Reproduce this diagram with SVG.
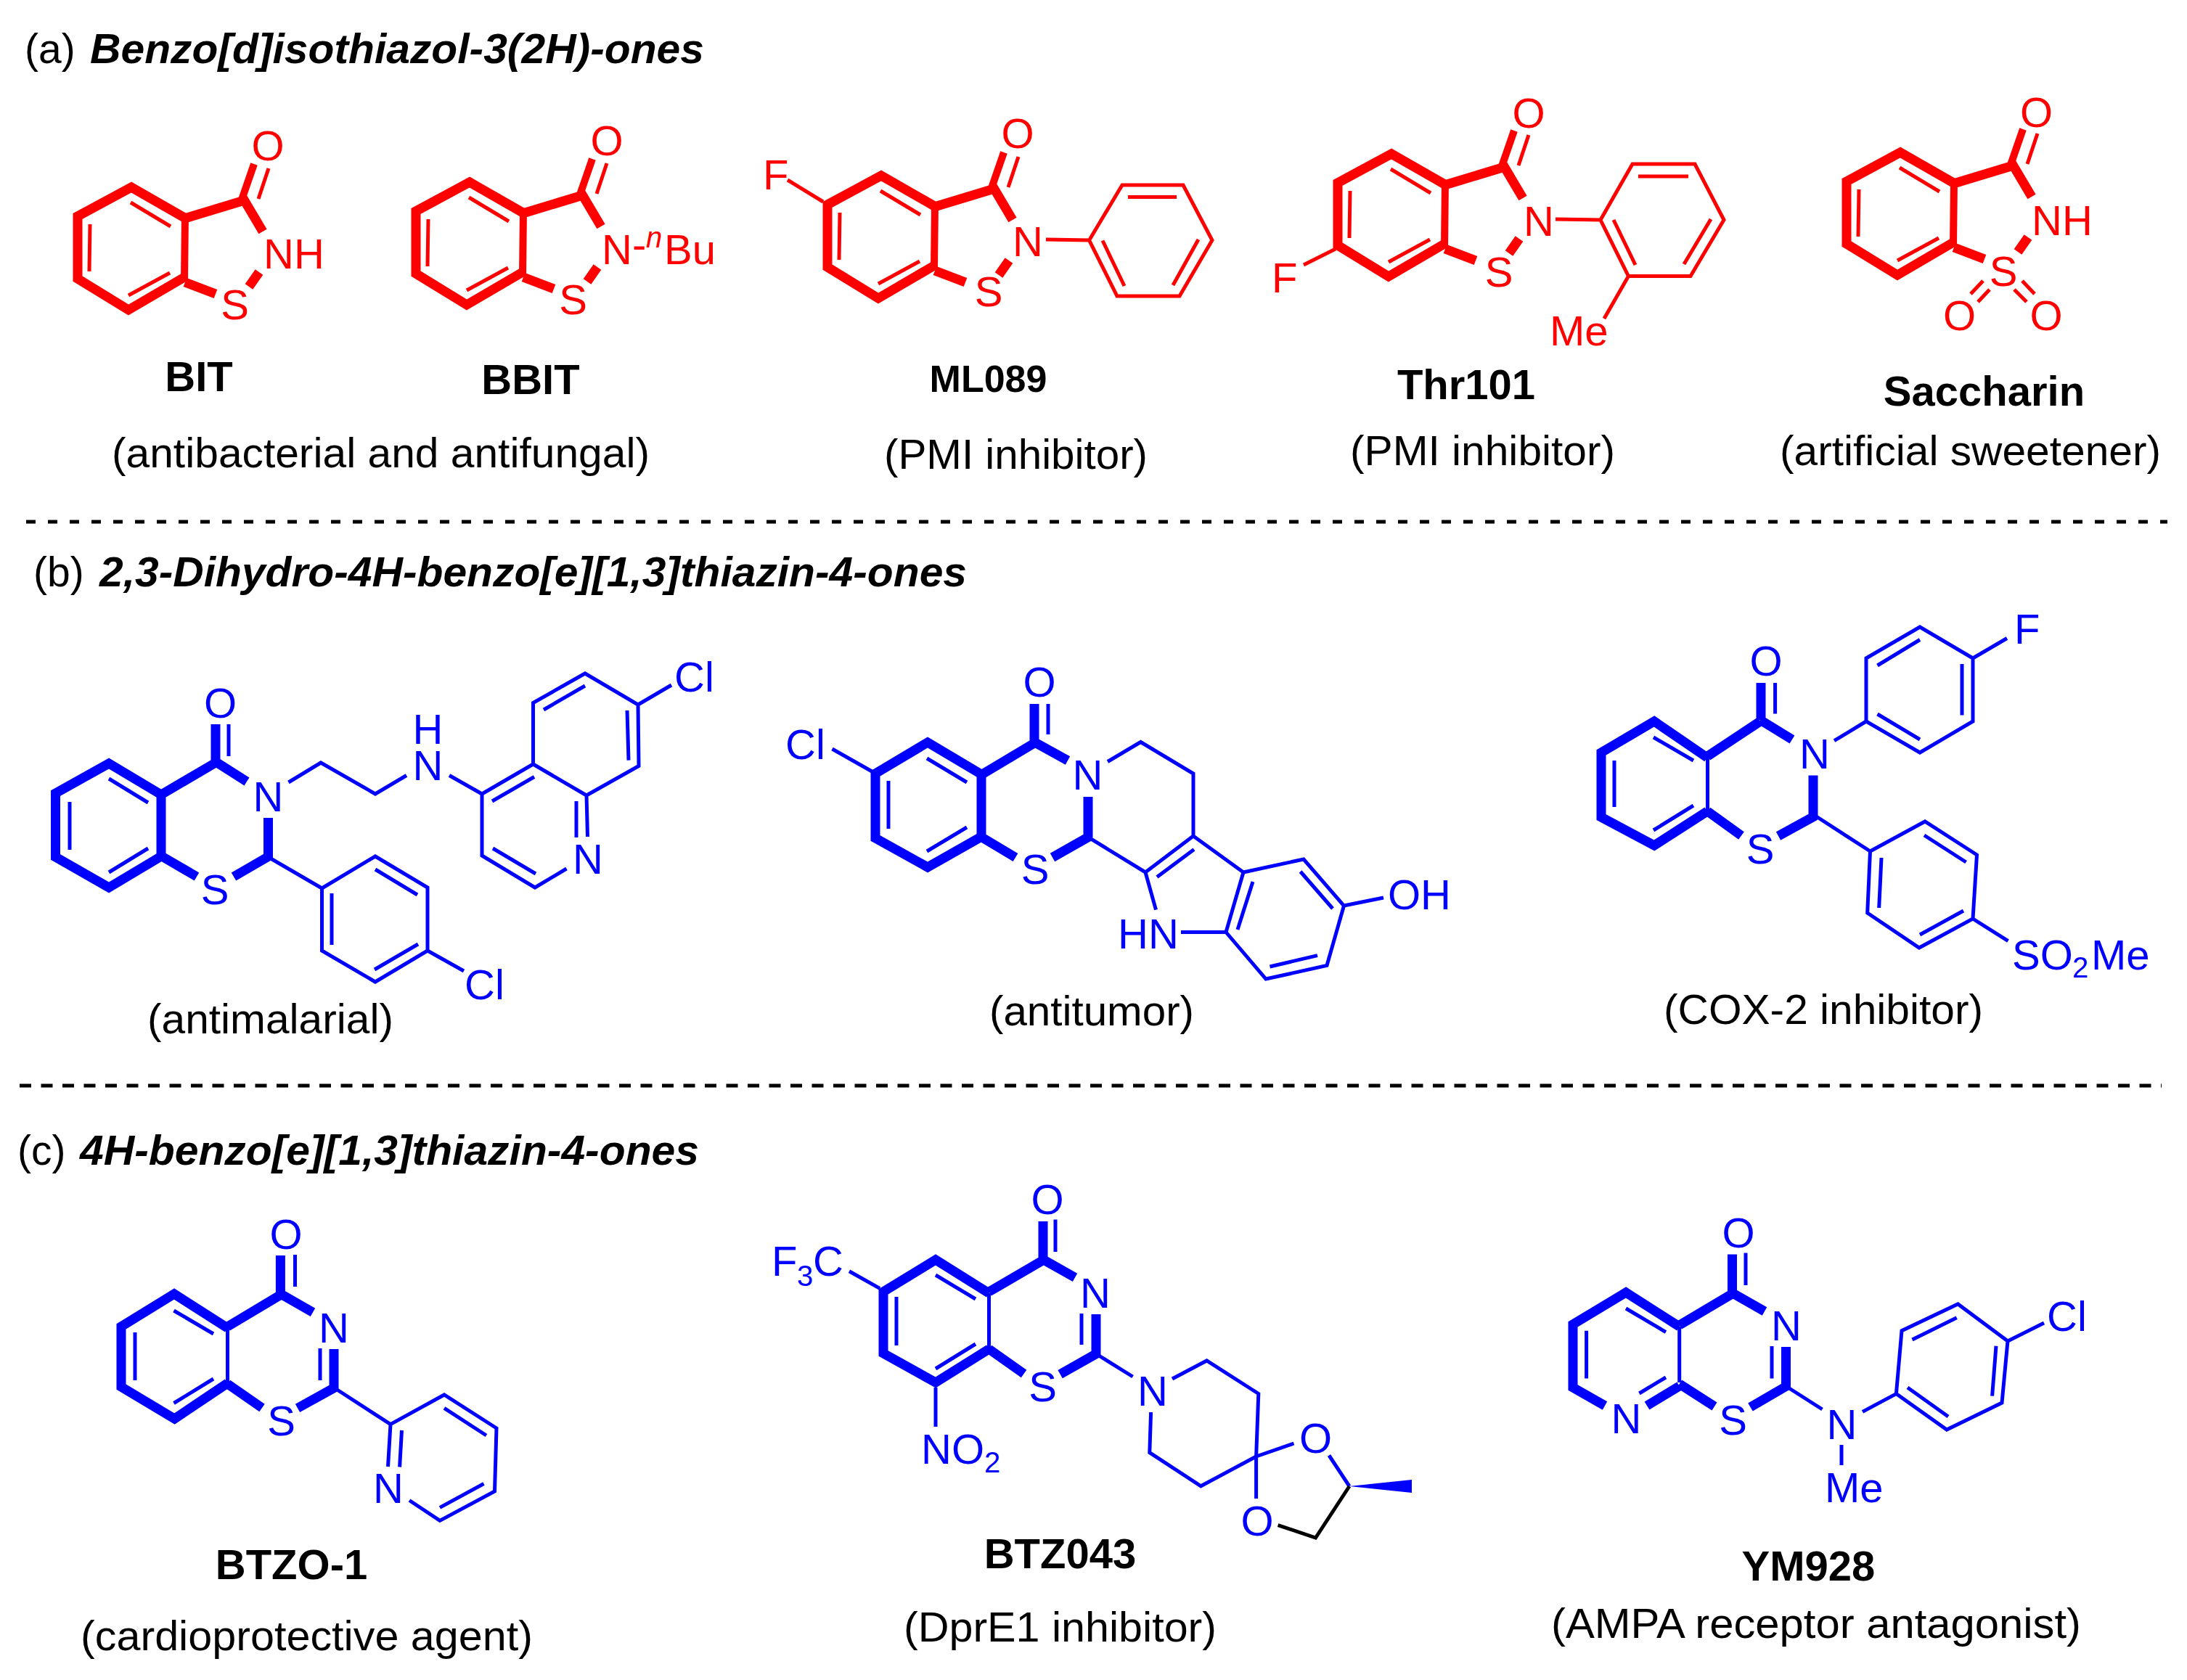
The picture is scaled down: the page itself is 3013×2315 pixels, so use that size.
<svg xmlns="http://www.w3.org/2000/svg" xmlns:xlink="http://www.w3.org/1999/xlink" width="3013" height="2315" viewBox="0 0 3013 2315">
<style>
text{font-family:"Liberation Sans",Arial,sans-serif;font-size:58px;stroke:none}
.red{stroke:#f00;fill:#f00}
.blue{stroke:#00f;fill:#00f}
.t,.w,.f{fill:none;stroke-linecap:butt;stroke-linejoin:miter}
.t{stroke-width:5}
.w{stroke-width:13}
.f{stroke-width:10}
.m{text-anchor:middle}
.s{font-size:40px}
.name{fill:#000;font-weight:bold;font-size:58px;text-anchor:middle}
.note{fill:#000;font-size:57px}
.head{fill:#000;font-size:57px}
.title{font-weight:bold;font-style:italic}
.dash{stroke:#000;stroke-width:5;fill:none}
</style>
<defs>
<g id="core">
<polyline class="w" points="256,301 181,258 107,298 107,384 177,427 254,382"/>
<path class="f" d="M255,297L254,386"/>
<path class="w" d="M256,300.500L332,277.500"/>
<path class="f" d="M332,278L350,226"/>
<path class="w" d="M333,270L362,319M255,389L297,405M357,375L343,395"/>
<path class="t" d="M180,279L235,312M124,309L123,374M177,407L234,376M356,274L370,232"/>
</g>
</defs>
<rect width="3013" height="2315" fill="#fff"/>

<g id="headings">
<text class="head" x="34" y="87">(a)</text>
<text class="head title" x="124" y="87" textLength="846" lengthAdjust="spacingAndGlyphs">Benzo[d]isothiazol-3(2H)-ones</text>
<text class="head" x="46" y="808">(b)</text>
<text class="head title" x="137" y="808" textLength="1195" lengthAdjust="spacingAndGlyphs">2,3-Dihydro-4H-benzo[e][1,3]thiazin-4-ones</text>
<text class="head" x="24" y="1605">(c)</text>
<text class="head title" x="110" y="1605" textLength="853" lengthAdjust="spacingAndGlyphs">4H-benzo[e][1,3]thiazin-4-ones</text>
</g>
<g id="dividers">
<path class="dash" stroke-dasharray="13 17" d="M36,719H2986"/>
<path class="dash" stroke-dasharray="16 13.500" d="M27,1496H2978"/>
</g>

<g id="BIT" class="red">
<use href="#core"/>
<text class="m" x="369" y="221">O</text>
<text x="363" y="370">NH</text>
<text class="m" x="323.500" y="440">S</text>
</g>
<text class="name" x="274" y="539">BIT</text>

<g id="BBIT" class="red">
<use href="#core" transform="translate(466,-7)"/>
<text class="m" x="836" y="214">O</text>
<text class="m" x="789.500" y="433">S</text>
<text x="829" y="364">N<tspan y="357">-</tspan><tspan class="s" x="890" y="341" font-style="italic">n</tspan><tspan x="915" y="364">Bu</tspan></text>
</g>
<text class="name" x="731" y="543">BBIT</text>
<text class="note" x="154" y="644" textLength="741" lengthAdjust="spacingAndGlyphs">(antibacterial and antifungal)</text>

<g id="ML089" class="red">
<use href="#core" transform="translate(1033,-16)"/>
<path class="t" d="M1085,248L1134,278M1441,330L1500.600,331M1500.600,331L1546,255H1630L1670,331L1625,408H1539ZM1554,271.500H1621M1651,330L1616,393M1519,331.500L1549,394"/>
<text x="1051" y="261">F</text>
<text class="m" x="1402" y="204">O</text>
<text class="m" x="1416" y="353">N</text>
<text class="m" x="1362" y="422">S</text>
</g>
<text class="name" x="1361.500" y="540" style="font-size:52px">ML089</text>
<text class="note" x="1218" y="646" textLength="363" lengthAdjust="spacingAndGlyphs">(PMI inhibitor)</text>

<g id="Thr101" class="red">
<use href="#core" transform="translate(1736,-46)"/>
<path class="t" d="M1796,365L1840,343M2143,302L2205,303M2205,303L2249,226H2335L2375,303L2329,380.500H2243.500ZM2257,243H2326M2357,302L2320,364M2223,303L2253,365M2243.500,380.500L2210,439"/>
<text x="1752" y="403">F</text>
<text class="m" x="2106" y="176">O</text>
<text class="m" x="2120" y="325">N</text>
<text class="m" x="2065" y="395">S</text>
<text x="2135" y="476">Me</text>
</g>
<text class="name" x="2020" y="550">Thr101</text>
<text class="note" x="1860" y="641" textLength="365" lengthAdjust="spacingAndGlyphs">(PMI inhibitor)</text>

<g id="Saccharin" class="red">
<use href="#core" transform="translate(2437,-48)"/>
<path class="t" d="M2732,387L2715,405M2741,399L2725,416M2775,399L2792,416M2786,387L2803,405"/>
<text class="m" x="2805.500" y="175">O</text>
<text x="2799" y="324">NH</text>
<text class="m" x="2760" y="394">S</text>
<text class="m" x="2699.500" y="455">O</text>
<text class="m" x="2819" y="455">O</text>
</g>
<text class="name" x="2733.500" y="559">Saccharin</text>
<text class="note" x="2452" y="641" textLength="525" lengthAdjust="spacingAndGlyphs">(artificial sweetener)</text>

<g id="antimalarial" class="blue">
<polyline class="w" points="222,1095 150,1052 76.500,1093 76.500,1181 150,1223 222,1180"/>
<path class="w" d="M222,1090V1185M222,1095L297,1051M297,998V1052M296,1049L340,1077M369.500,1127V1183M372,1179L322,1208M223,1180L271,1208"/>
<path class="t" d="M150,1073L204,1106M96,1105V1171M150,1202L204,1169M315,998V1042M373,1183L443.500,1224M443.500,1224L517,1180L589,1223V1310L517,1353L443.500,1310ZM517,1198L575,1233M457,1231V1302M516,1336L576,1301M589,1310L639,1338M397.500,1078L442,1051L517,1094L560,1068.500M619,1068.500L664,1094L734.500,1053L808,1096L809.500,1153M794,1104V1154M664,1094V1179L737,1223L780.500,1197M679,1169L738,1204M678,1104L736,1070.500M734.500,1053V968.500L806,928L879,971L880,1055.500L808,1096M749,978L806,945M864,979L866,1047.600M879,971L925,944"/>
<text class="m" x="303.500" y="989">O</text>
<text class="m" x="369.500" y="1118">N</text>
<text class="m" x="296" y="1246">S</text>
<text class="m"><tspan x="589.500" y="1025">H</tspan><tspan x="589.500" y="1075">N</tspan></text>
<text class="m" x="810" y="1204">N</text>
<text x="640" y="1377">Cl</text>
<text x="929" y="953">Cl</text>
</g>
<text class="note" x="203" y="1424" textLength="339" lengthAdjust="spacingAndGlyphs">(antimalarial)</text>

<g id="antitumor" class="blue">
<polyline class="w" points="1352,1067 1278,1023 1206,1066 1206,1155 1278,1195 1352,1153"/>
<path class="w" d="M1352,1062V1158M1353,1067L1425,1024M1425,970V1026M1424,1022L1471,1048M1499,1098V1154M1502,1152L1450,1181.500M1353,1154L1399,1181.500"/>
<path class="t" d="M1277,1045L1332,1078M1224,1076V1142M1277,1173L1332,1140M1444,970V1012M1526,1049.500L1571.500,1022.500L1644,1066V1152L1578,1202L1502.500,1155.600M1594,1208.600L1645,1170.500M1578,1202L1592.500,1253.600M1627,1284.500H1687.600M1644,1152L1713,1202M1713,1202L1796,1184L1851.500,1248L1828,1330.500L1744,1349L1689,1284.500ZM1726,1215L1705,1281M1791.600,1201L1836,1252M1815,1316.600L1749.500,1332M1851.500,1248L1906,1237M1146.500,1032L1203,1064"/>
<text class="m" x="1432" y="960">O</text>
<text class="m" x="1498.500" y="1088">N</text>
<text class="m" x="1426" y="1218">S</text>
<text x="1540" y="1307">HN</text>
<text x="1912" y="1253">OH</text>
<text x="1082" y="1046">Cl</text>
</g>
<text class="note" x="1363" y="1413" textLength="282" lengthAdjust="spacingAndGlyphs">(antitumor)</text>

<g id="COX2" class="blue">
<polyline class="w" points="2352,1044 2279,994 2206,1037 2206,1126 2279,1165 2352,1118"/>
<path class="w" d="M2352.500,1042L2425,994M2426,941V992M2425,992L2469,1019M2498,1068.500V1127M2501,1124L2450,1152M2352.500,1118L2399,1151.600"/>
<path class="t" d="M2352.500,1042V1118M2278,1016L2333,1048M2224,1048V1112M2278,1144L2333,1110M2445.600,941V983.500M2527,1020.700L2571,994M2571,994V907L2645,864L2718,907V994L2645,1037ZM2586.500,917L2645,881.500M2703,915V985.500M2586.500,984L2645,1019M2718,907L2765,879.500M2503,1125.500L2576.500,1173M2576.500,1173L2652,1132L2723.500,1178L2718,1266L2644,1306L2572.700,1258ZM2651,1151L2708.600,1188M2592,1182L2588.700,1251M2645,1288L2705,1255M2718,1266L2766.500,1296.700"/>
<text class="m" x="2433" y="931">O</text>
<text class="m" x="2500" y="1059">N</text>
<text class="m" x="2425" y="1190">S</text>
<text x="2775" y="887">F</text>
<text x="2772" y="1336">SO<tspan class="s" x="2855" y="1347">2</tspan><tspan x="2881" y="1336">Me</tspan></text>
</g>
<text class="note" x="2292" y="1411" textLength="440" lengthAdjust="spacingAndGlyphs">(COX-2 inhibitor)</text>

<g id="BTZO-1" class="blue">
<polyline class="w" points="313.500,1830 240,1783 167,1828 167,1911 240.500,1955 313.500,1906"/>
<path class="w" d="M313.500,1828L386,1784.700M386.400,1730V1786M385,1782L431,1808.400M460,1859V1915M463,1911L410,1940.400M313.500,1907L361,1940"/>
<path class="t" d="M313.500,1828V1906M239.500,1806L294,1838M186,1836V1902M239.500,1933.500L294,1900M406.500,1729V1773M441,1858V1902M464.500,1915L538,1962.600M538,1962.600L612,1922L684,1968L681.500,2055L606,2095.400L564,2067.500M538,1962.600L534.500,2021M553.500,1971L550.600,2021.500M612,1940.400L670,1978M606,2077.400L666.500,2044.500"/>
<text class="m" x="394" y="1721">O</text>
<text class="m" x="460" y="1850">N</text>
<text class="m" x="387.500" y="1978">S</text>
<text class="m" x="535" y="2071">N</text>
</g>
<text class="name" x="401.500" y="2176">BTZO-1</text>
<text class="note" x="111" y="2274" textLength="623" lengthAdjust="spacingAndGlyphs">(cardioprotective agent)</text>

<g id="BTZ043" class="blue">
<polyline class="w" points="1362.500,1782 1289,1736 1217,1780 1217,1865 1289,1905 1362.500,1859"/>
<path class="w" d="M1362.500,1780L1435.600,1737.400M1437,1683V1739M1436,1735L1481,1760.400M1510,1811V1868M1513,1864L1460.600,1893.600M1362.500,1859L1410.600,1893"/>
<path class="t" d="M1362.500,1782V1859M1289,1757L1344,1790M1235,1787V1854M1289,1886L1344,1852M1454,1680.500V1725M1490,1810V1853M1514,1868L1560.600,1897M1615,1900L1662.500,1875L1733.800,1920.500L1730.600,2007.500M1585.600,1946L1583.800,2001.600L1654.400,2047.800L1730.600,2007M1730.600,2007L1782.500,1989M1730.600,2007V2065M1831,2005.500L1859,2048M1289,1912V1966M1170,1751.700L1212,1775.400"/>
<path class="t" stroke="#000" d="M1859,2048L1812.500,2119L1760.600,2101.600"/>
<polygon stroke="none" points="1859,2048 1945,2039 1945,2057"/>
<text class="m" x="1443" y="1673">O</text>
<text class="m" x="1509" y="1802">N</text>
<text class="m" x="1436.500" y="1931">S</text>
<text class="m" x="1588" y="1937">N</text>
<text class="m" x="1812.500" y="2002">O</text>
<text class="m" x="1732" y="2116">O</text>
<text x="1269" y="2017">NO<tspan class="s" x="1356" y="2029">2</tspan></text>
<text x="1063" y="1758">F<tspan class="s" x="1098" y="1772">3</tspan><tspan x="1120" y="1758">C</tspan></text>
</g>
<text class="name" x="1460.500" y="2161">BTZ043</text>
<text class="note" x="1245" y="2262" textLength="431" lengthAdjust="spacingAndGlyphs">(DprE1 inhibitor)</text>

<g id="YM928" class="blue">
<polyline class="w" points="2313.700,1828 2240,1781 2167,1825 2167,1912 2211,1937"/>
<path class="w" d="M2269,1937L2313.700,1910M2313.700,1826L2386.500,1782.800M2386.500,1728.500V1785M2385.500,1781L2431,1807M2460.500,1856V1913M2463,1909L2411.500,1939M2313.700,1907L2362,1938"/>
<path class="t" d="M2240,1803L2295,1835.600M2185.600,1833.700V1899.500M2258.400,1920L2295,1898M2313.700,1828V1905M2405,1726.500V1771M2441,1855V1899.500M2465,1913L2510.500,1942M2537,1991V2019M2566,1945.400L2612.400,1920.600M2612.400,1920.600L2620,1833.700L2697.400,1797L2766,1848L2758,1933L2682,1970ZM2634.500,1846L2695.700,1815.700M2750,1854.700L2744.600,1923.600M2628,1912L2684,1952M2766,1848L2816,1823"/>
<text class="m" x="2395" y="1719">O</text>
<text class="m" x="2461" y="1847">N</text>
<text class="m" x="2240.500" y="1975">N</text>
<text class="m" x="2387.500" y="1977">S</text>
<text class="m" x="2537.500" y="1983">N</text>
<text x="2514" y="2070">Me</text>
<text x="2820" y="1834">Cl</text>
</g>
<text class="name" x="2491.500" y="2178">YM928</text>
<text class="note" x="2137" y="2257" textLength="730" lengthAdjust="spacingAndGlyphs">(AMPA receptor antagonist)</text>
</svg>
